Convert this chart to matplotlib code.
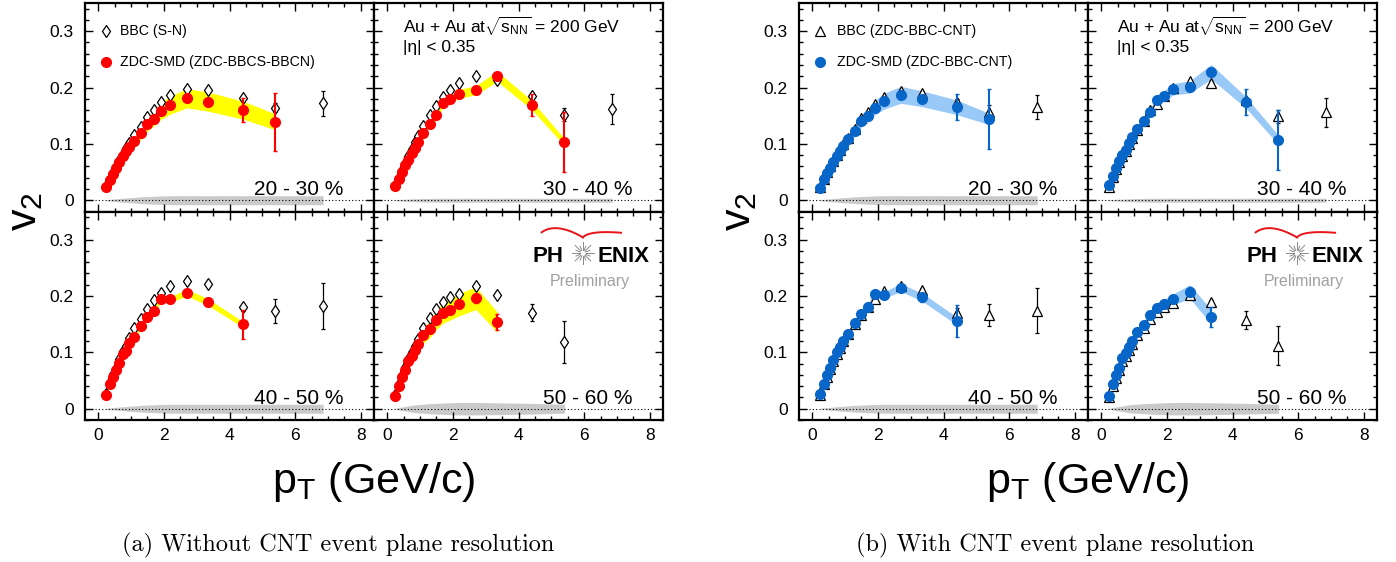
import numpy as np
import matplotlib
matplotlib.use("Agg")
import matplotlib.pyplot as plt
from matplotlib.ticker import MultipleLocator, FuncFormatter

plt.rcParams['font.family'] = ['Liberation Sans', 'DejaVu Sans']
plt.rcParams['mathtext.fontset'] = 'custom'
plt.rcParams['mathtext.rm'] = 'Liberation Sans'
plt.rcParams['mathtext.it'] = 'Liberation Sans:italic'
plt.rcParams['mathtext.default'] = 'regular'

# pT bin centres (GeV/c)
pt = [0.25, 0.35, 0.45, 0.55, 0.65, 0.75, 0.85, 0.95, 1.1, 1.3, 1.5, 1.7, 1.9, 2.2, 2.7, 3.35, 4.4, 5.4, 6.85]

centralities = ["20 - 30 %", "30 - 40 %", "40 - 50 %", "50 - 60 %"]

# ---- (a) without CNT resolution: ZDC-SMD (ZDC-BBCS-BBCN) and BBC (S-N)
zdc_sn_2030 = [0.023, 0.036, 0.047, 0.058, 0.068, 0.078, 0.087, 0.095, 0.105, 0.119, 0.135, 0.145, 0.158, 0.169, 0.181, 0.175, 0.160, 0.139]
zdc_sn_2030_err = [0.001, 0.001, 0.001, 0.001, 0.001, 0.001, 0.001, 0.001, 0.001, 0.001, 0.0015, 0.0015, 0.002, 0.003, 0.004, 0.007, 0.021, 0.051]
zdc_sn_2030_sys = [0.002, 0.003, 0.004, 0.005, 0.006, 0.007, 0.008, 0.009, 0.010, 0.011, 0.012, 0.013, 0.015, 0.016, 0.017, 0.017, 0.016, 0.014]
bbc_sn_2030 = [0.025, 0.038, 0.050, 0.061, 0.072, 0.082, 0.092, 0.101, 0.115, 0.130, 0.147, 0.160, 0.174, 0.186, 0.197, 0.196, 0.181, 0.164, 0.172]
bbc_sn_2030_err = [0.0005, 0.0005, 0.0005, 0.0005, 0.0005, 0.0005, 0.0005, 0.0005, 0.0006, 0.0007, 0.0008, 0.001, 0.001, 0.0015, 0.002, 0.003, 0.005, 0.008, 0.022]

zdc_sn_3040 = [0.026, 0.038, 0.050, 0.062, 0.072, 0.083, 0.093, 0.103, 0.119, 0.136, 0.151, 0.172, 0.179, 0.189, 0.195, 0.220, 0.169, 0.103]
zdc_sn_3040_err = [0.001, 0.001, 0.001, 0.001, 0.001, 0.001, 0.001, 0.001, 0.001, 0.001, 0.0015, 0.0015, 0.002, 0.003, 0.004, 0.006, 0.020, 0.053]
zdc_sn_3040_sys = [0.001, 0.002, 0.002, 0.003, 0.003, 0.003, 0.004, 0.004, 0.005, 0.005, 0.006, 0.007, 0.007, 0.008, 0.008, 0.009, 0.008, 0.006]
bbc_sn_3040 = [0.027, 0.040, 0.053, 0.066, 0.079, 0.091, 0.103, 0.114, 0.132, 0.151, 0.167, 0.183, 0.196, 0.208, 0.220, 0.213, 0.185, 0.152, 0.162]
bbc_sn_3040_err = [0.0005, 0.0005, 0.0005, 0.0005, 0.0005, 0.0005, 0.0005, 0.0005, 0.0006, 0.0007, 0.0008, 0.001, 0.001, 0.0015, 0.002, 0.003, 0.006, 0.012, 0.027]

zdc_sn_4050 = [0.025, 0.044, 0.057, 0.068, 0.082, 0.097, 0.103, 0.116, 0.128, 0.147, 0.162, 0.173, 0.194, 0.194, 0.206, 0.189, 0.150]
zdc_sn_4050_err = [0.001, 0.001, 0.001, 0.001, 0.001, 0.001, 0.001, 0.001, 0.001, 0.001, 0.0015, 0.002, 0.002, 0.003, 0.004, 0.007, 0.026]
zdc_sn_4050_sys = [0.001, 0.002, 0.002, 0.002, 0.003, 0.003, 0.003, 0.004, 0.004, 0.004, 0.005, 0.005, 0.005, 0.005, 0.006, 0.006, 0.005]
bbc_sn_4050 = [0.027, 0.047, 0.061, 0.073, 0.088, 0.103, 0.111, 0.125, 0.143, 0.160, 0.177, 0.193, 0.206, 0.217, 0.227, 0.221, 0.180, 0.174, 0.183]
bbc_sn_4050_err = [0.0005, 0.0005, 0.0005, 0.0005, 0.0005, 0.0005, 0.0005, 0.0005, 0.0006, 0.0007, 0.0008, 0.001, 0.001, 0.002, 0.003, 0.004, 0.006, 0.021, 0.041]

zdc_sn_5060 = [0.022, 0.041, 0.056, 0.069, 0.084, 0.094, 0.105, 0.115, 0.130, 0.141, 0.158, 0.170, 0.176, 0.185, 0.196, 0.154]
zdc_sn_5060_err = [0.001, 0.001, 0.001, 0.001, 0.001, 0.001, 0.001, 0.001, 0.001, 0.001, 0.0015, 0.002, 0.002, 0.003, 0.008, 0.014]
zdc_sn_5060_sys = [0.002, 0.004, 0.006, 0.007, 0.009, 0.010, 0.011, 0.012, 0.014, 0.015, 0.017, 0.018, 0.019, 0.020, 0.020, 0.018]
bbc_sn_5060 = [0.024, 0.044, 0.060, 0.074, 0.089, 0.100, 0.112, 0.124, 0.143, 0.161, 0.177, 0.190, 0.199, 0.204, 0.217, 0.202, 0.170, 0.119]
bbc_sn_5060_err = [0.0005, 0.0005, 0.0005, 0.0005, 0.0005, 0.0005, 0.0005, 0.0005, 0.0007, 0.0008, 0.001, 0.0012, 0.0015, 0.002, 0.003, 0.004, 0.015, 0.037]

# ---- (b) with CNT resolution: ZDC-SMD and BBC (ZDC-BBC-CNT)
zdc_cnt_2030 = [0.022, 0.037, 0.048, 0.058, 0.068, 0.078, 0.088, 0.096, 0.108, 0.123, 0.141, 0.150, 0.164, 0.176, 0.187, 0.180, 0.165, 0.144]
zdc_cnt_2030_err = [0.001, 0.001, 0.001, 0.001, 0.001, 0.001, 0.001, 0.001, 0.001, 0.001, 0.0015, 0.0015, 0.002, 0.003, 0.004, 0.006, 0.023, 0.053]
zdc_cnt_2030_sys = [0.002, 0.003, 0.004, 0.004, 0.005, 0.006, 0.007, 0.007, 0.008, 0.009, 0.011, 0.012, 0.013, 0.014, 0.015, 0.014, 0.013, 0.010]
bbc_cnt_2030 = [0.023, 0.038, 0.050, 0.060, 0.070, 0.080, 0.090, 0.099, 0.111, 0.127, 0.146, 0.156, 0.171, 0.183, 0.194, 0.190, 0.174, 0.157, 0.166]
bbc_cnt_2030_err = [0.0005, 0.0005, 0.0005, 0.0005, 0.0005, 0.0005, 0.0005, 0.0005, 0.0006, 0.0007, 0.0008, 0.001, 0.001, 0.0015, 0.002, 0.003, 0.006, 0.012, 0.021]

zdc_cnt_3040 = [0.027, 0.043, 0.057, 0.069, 0.080, 0.089, 0.101, 0.112, 0.126, 0.141, 0.156, 0.177, 0.185, 0.197, 0.201, 0.228, 0.174, 0.107]
zdc_cnt_3040_err = [0.001, 0.001, 0.001, 0.001, 0.001, 0.001, 0.001, 0.001, 0.001, 0.001, 0.0015, 0.0015, 0.002, 0.003, 0.004, 0.006, 0.023, 0.054]
zdc_cnt_3040_sys = [0.001, 0.002, 0.003, 0.003, 0.004, 0.004, 0.005, 0.005, 0.006, 0.007, 0.008, 0.008, 0.009, 0.010, 0.011, 0.013, 0.010, 0.008]
bbc_cnt_3040 = [0.024, 0.041, 0.055, 0.067, 0.078, 0.087, 0.099, 0.110, 0.124, 0.140, 0.160, 0.170, 0.185, 0.200, 0.212, 0.208, 0.178, 0.149, 0.156]
bbc_cnt_3040_err = [0.0005, 0.0005, 0.0005, 0.0005, 0.0005, 0.0005, 0.0005, 0.0005, 0.0006, 0.0007, 0.0008, 0.001, 0.001, 0.0015, 0.002, 0.003, 0.006, 0.012, 0.026]

zdc_cnt_4050 = [0.026, 0.044, 0.059, 0.072, 0.086, 0.100, 0.109, 0.121, 0.133, 0.152, 0.168, 0.181, 0.203, 0.202, 0.215, 0.198, 0.156]
zdc_cnt_4050_err = [0.001, 0.001, 0.001, 0.001, 0.001, 0.001, 0.001, 0.001, 0.001, 0.001, 0.0015, 0.002, 0.002, 0.003, 0.004, 0.008, 0.028]
zdc_cnt_4050_sys = [0.001, 0.002, 0.002, 0.003, 0.003, 0.004, 0.004, 0.004, 0.005, 0.005, 0.006, 0.006, 0.006, 0.006, 0.007, 0.007, 0.007]
bbc_cnt_4050 = [0.025, 0.043, 0.057, 0.070, 0.084, 0.097, 0.107, 0.120, 0.133, 0.151, 0.167, 0.180, 0.194, 0.209, 0.218, 0.211, 0.169, 0.166, 0.174]
bbc_cnt_4050_err = [0.0005, 0.0005, 0.0005, 0.0005, 0.0005, 0.0005, 0.0005, 0.0005, 0.0006, 0.0007, 0.0008, 0.001, 0.001, 0.002, 0.003, 0.004, 0.010, 0.020, 0.040]

zdc_cnt_5060 = [0.023, 0.044, 0.059, 0.073, 0.090, 0.099, 0.110, 0.120, 0.136, 0.149, 0.166, 0.179, 0.185, 0.194, 0.208, 0.163]
zdc_cnt_5060_err = [0.001, 0.001, 0.001, 0.001, 0.001, 0.001, 0.001, 0.001, 0.001, 0.001, 0.0015, 0.002, 0.002, 0.003, 0.008, 0.018]
zdc_cnt_5060_sys = [0.001, 0.002, 0.003, 0.003, 0.004, 0.005, 0.005, 0.006, 0.007, 0.007, 0.008, 0.009, 0.009, 0.010, 0.012, 0.013]
bbc_cnt_5060 = [0.021, 0.040, 0.055, 0.069, 0.085, 0.094, 0.105, 0.115, 0.131, 0.144, 0.160, 0.172, 0.180, 0.187, 0.202, 0.189, 0.158, 0.112]
bbc_cnt_5060_err = [0.0005, 0.0005, 0.0005, 0.0005, 0.0005, 0.0005, 0.0005, 0.0005, 0.0007, 0.0008, 0.001, 0.0012, 0.0015, 0.002, 0.003, 0.004, 0.016, 0.034]

# grey global systematic band around zero (half width)
gray_2030 = [0.001, 0.0015, 0.002, 0.0025, 0.003, 0.0035, 0.004, 0.0045, 0.005, 0.006, 0.0065, 0.007, 0.0075, 0.008, 0.008, 0.008, 0.008, 0.008, 0.008]
gray_3040 = [0.001, 0.0012, 0.0015, 0.0018, 0.002, 0.0022, 0.0025, 0.0027, 0.003, 0.0032, 0.0035, 0.0035, 0.0035, 0.0035, 0.0035, 0.0035, 0.0035, 0.0035, 0.0035]
gray_4050 = [0.001, 0.0015, 0.002, 0.0025, 0.003, 0.0035, 0.004, 0.0045, 0.005, 0.006, 0.0065, 0.007, 0.0075, 0.008, 0.008, 0.008, 0.008, 0.008, 0.008]
gray_5060 = [0.001, 0.002, 0.003, 0.004, 0.005, 0.006, 0.007, 0.0075, 0.008, 0.009, 0.0095, 0.010, 0.0105, 0.011, 0.011, 0.0105, 0.0095, 0.008]

W, H = 1396, 562
fig = plt.figure(figsize=(W / 100, H / 100), dpi=100)

col_w, row_h = 289, 208.5
fig_x0 = [85, 799]
row_top = [3, 211.5]


def add_ax(x0, ytop):
    return fig.add_axes([x0 / W, (H - ytop - row_h) / H, col_w / W, row_h / H])


def style_ax(ax, left_labels, bottom_labels):
    ax.set_xlim(-0.4, 8.4)
    ax.set_ylim(-0.02, 0.35)
    ax.xaxis.set_major_locator(MultipleLocator(2))
    ax.xaxis.set_minor_locator(MultipleLocator(0.5))
    ax.yaxis.set_major_locator(MultipleLocator(0.1))
    ax.yaxis.set_minor_locator(MultipleLocator(0.02))
    ax.yaxis.set_major_formatter(FuncFormatter(lambda v, _: '0' if abs(v) < 1e-9 else f'{v:.1f}'))
    ax.tick_params(which='both', direction='in', top=True, right=True, width=1)
    ax.tick_params(which='major', length=6)
    ax.tick_params(which='minor', length=3)
    ax.tick_params(axis='y', labelsize=12.5, pad=8, labelleft=left_labels)
    ax.tick_params(axis='x', labelsize=12.5, pad=6, labelbottom=bottom_labels)
    for s in ax.spines.values():
        s.set_linewidth(1.6)


def draw_panel(ax, zdc, zdc_err, zdc_sys, bbc, bbc_err, gray, look):
    xz = pt[:len(zdc)]
    xb = pt[:len(bbc)]
    xg = pt[:len(gray)]
    g = np.array(gray)
    ax.fill_between(xg, -g, g, color='#cacaca', lw=0, zorder=1)
    ax.axhline(0, color='black', lw=0.8, ls=(0, (1, 2)), zorder=1.5)
    z = np.array(zdc)
    s = np.array(zdc_sys)
    ax.fill_between(xz, z - s, z + s, color=look['band'], lw=0, zorder=2)
    ax.errorbar(xb, bbc, yerr=bbc_err, fmt=look['bbc_marker'], ms=look['bbc_ms'],
                mfc='white', mec='black', mew=0.9, ecolor='black',
                elinewidth=0.9, capsize=1.5, zorder=3)
    ax.errorbar(xz, zdc, yerr=zdc_err, fmt='o', ms=7, color=look['color'],
                mec=look['color'], ecolor=look['color'], elinewidth=1.5,
                capsize=1.5, zorder=4)


def draw_logo(ax):
    ax.text(0.55, 0.757, 'PH', transform=ax.transAxes, fontsize=16,
            fontweight='bold', ha='left', va='baseline')
    ax.text(0.955, 0.757, 'ENIX', transform=ax.transAxes, fontsize=16,
            fontweight='bold', ha='right', va='baseline')
    ax.text(0.747, 0.645, 'Preliminary', transform=ax.transAxes, fontsize=11.5,
            color='#a0a0a0', ha='center', va='baseline')
    # starburst in place of the O
    cx, cy = 0.723, 0.80
    for k in range(16):
        a = k * np.pi / 8
        r = 11 if k % 2 == 0 else 7.5
        ax.plot([cx + 3 / col_w * np.cos(a), cx + r / col_w * np.cos(a)],
                [cy + 3 / row_h * np.sin(a), cy + r / row_h * np.sin(a)],
                color='#8a8a8a', lw=0.7, transform=ax.transAxes, clip_on=False)
    # red swoosh
    t = np.linspace(0, 1, 30)
    p0, c1, pv = np.array([0.58, 0.90]), np.array([0.63, 0.95]), np.array([0.723, 0.876])
    c2, p3 = np.array([0.745, 0.91]), np.array([0.855, 0.898])
    left = ((1 - t) ** 2)[:, None] * p0 + (2 * t * (1 - t))[:, None] * c1 + (t ** 2)[:, None] * pv
    right = ((1 - t) ** 2)[:, None] * pv + (2 * t * (1 - t))[:, None] * c2 + (t ** 2)[:, None] * p3
    ax.plot(left[:, 0], left[:, 1], color='#e8141a', lw=1.4, transform=ax.transAxes, clip_on=False)
    ax.plot(right[:, 0], right[:, 1], color='#e8141a', lw=1.4, transform=ax.transAxes, clip_on=False)


figures = [
    dict(color='#ff0000', band='#ffff00', bbc_marker='d', bbc_ms=6.5,
         bbc_label='BBC (S-N)', zdc_label='ZDC-SMD (ZDC-BBCS-BBCN)',
         text_x=0.121,
         zdc=[zdc_sn_2030, zdc_sn_3040, zdc_sn_4050, zdc_sn_5060],
         zdc_err=[zdc_sn_2030_err, zdc_sn_3040_err, zdc_sn_4050_err, zdc_sn_5060_err],
         zdc_sys=[zdc_sn_2030_sys, zdc_sn_3040_sys, zdc_sn_4050_sys, zdc_sn_5060_sys],
         bbc=[bbc_sn_2030, bbc_sn_3040, bbc_sn_4050, bbc_sn_5060],
         bbc_err=[bbc_sn_2030_err, bbc_sn_3040_err, bbc_sn_4050_err, bbc_sn_5060_err],
         caption='(a) Without CNT event plane resolution', cap_x=338),
    dict(color='#0866c8', band='#99c9f7', bbc_marker='^', bbc_ms=6.5,
         bbc_label='BBC (ZDC-BBC-CNT)', zdc_label='ZDC-SMD (ZDC-BBC-CNT)',
         text_x=0.131,
         zdc=[zdc_cnt_2030, zdc_cnt_3040, zdc_cnt_4050, zdc_cnt_5060],
         zdc_err=[zdc_cnt_2030_err, zdc_cnt_3040_err, zdc_cnt_4050_err, zdc_cnt_5060_err],
         zdc_sys=[zdc_cnt_2030_sys, zdc_cnt_3040_sys, zdc_cnt_4050_sys, zdc_cnt_5060_sys],
         bbc=[bbc_cnt_2030, bbc_cnt_3040, bbc_cnt_4050, bbc_cnt_5060],
         bbc_err=[bbc_cnt_2030_err, bbc_cnt_3040_err, bbc_cnt_4050_err, bbc_cnt_5060_err],
         caption='(b) With CNT event plane resolution', cap_x=1055),
]
grays = [gray_2030, gray_3040, gray_4050, gray_5060]

for f, look in enumerate(figures):
    x0 = fig_x0[f]
    for i in range(4):
        r, c = divmod(i, 2)
        ax = add_ax(x0 + c * col_w, row_top[r])
        style_ax(ax, c == 0, r == 1)
        draw_panel(ax, look['zdc'][i], look['zdc_err'][i], look['zdc_sys'][i],
                   look['bbc'][i], look['bbc_err'][i], grays[i], look)
        ax.text(0.893, 0.078, centralities[i], transform=ax.transAxes,
                fontsize=15, ha='right', va='baseline')
        if i == 0:
            ax.plot([0.073], [0.867], look['bbc_marker'], ms=look['bbc_ms'], mfc='white',
                    mec='black', mew=0.9, transform=ax.transAxes, clip_on=False)
            ax.text(look['text_x'], 0.867, look['bbc_label'], transform=ax.transAxes,
                    fontsize=10.2, va='center')
            ax.plot([0.073], [0.716], 'o', ms=7, color=look['color'],
                    transform=ax.transAxes, clip_on=False)
            ax.text(look['text_x'], 0.716, look['zdc_label'], transform=ax.transAxes,
                    fontsize=10.2, va='center')
        if i == 1:
            ax.text(0.10, 0.856, r'Au + Au at$\sqrt{s_{NN}}$ = 200 GeV', transform=ax.transAxes,
                    fontsize=12.5, va='baseline')
            ax.text(0.10, 0.764, '|η| < 0.35', transform=ax.transAxes,
                    fontsize=12.5, va='baseline')
        if i == 3:
            draw_logo(ax)

    fig.text((x0 - 60) / W, 1 - 211 / H, '$v_2$', rotation=90, fontsize=31,
             ha='center', va='center')
    fig.text((x0 + col_w) / W, 1 - 482 / H, '$p_T$ (GeV/c)', fontsize=31,
             ha='center', va='center')
    fig.text(look['cap_x'] / W, 1 - 545 / H, look['caption'], fontsize=17.5,
             family='cmr10', ha='center', va='center')

fig.savefig('out.png', dpi=100, facecolor='white')
